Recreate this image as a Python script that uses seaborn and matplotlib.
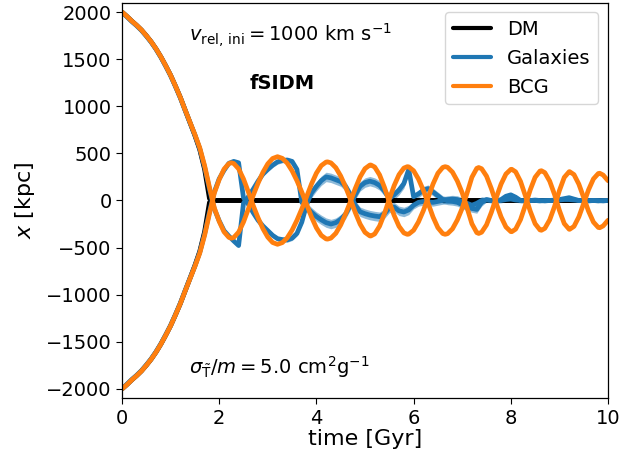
import numpy as np
import pandas as pd
import matplotlib
matplotlib.use("Agg")
import matplotlib.pyplot as plt
import seaborn as sns

# Snapshot times [Gyr]
time_gyr = np.round(np.linspace(0.0, 10.0, 101), 1)

# BCG position of the cluster starting at +2000 kpc (the other BCG mirrors it)
bcg_x = [
    2000, 1955, 1905, 1860, 1810, 1750, 1685, 1610, 1525, 1430,
    1330, 1215, 1095, 960, 830, 700, 560, 370, 140, -78,
    -222, -333, -392, -393, -336, -229, -91, 54, 184, 299,
    389, 446, 465, 447, 396, 315, 210, 89, -42, -176,
    -290, -370, -408, -399, -348, -260, -144, -13, 127, 251,
    338, 376, 355, 272, 140, -15, -158, -274, -344, -357,
    -316, -228, -109, 31, 175, 289, 351, 352, 301, 207,
    82, -78, -247, -341, -337, -259, -126, 30, 174, 281,
    330, 304, 203, 50, -113, -246, -312, -296, -206, -64,
    105, 245, 305, 275, 174, 31, -114, -229, -286, -270,
    -210,
]

# BCG turning points between the regular snapshots
bcg_turn_t = [2.25, 3.20, 4.23, 5.12, 5.87, 6.65, 7.34, 8.02, 8.63, 9.21, 9.83]
bcg_turn_x = [-400, 465, -410, 377, -359, 359, -350, 331, -316, 306, -289]

# Dark-matter peak position (merges at the centre after first passage)
dm_x = [
    2000, 1955, 1905, 1860, 1810, 1750, 1685, 1610, 1525, 1430,
    1330, 1215, 1095, 960, 825, 690, 540, 330, 20, 0,
] + [0] * 81

# Mean galaxy position, cluster starting at +2000 kpc
gal_a = [
    2000, 1950, 1900, 1855, 1805, 1745, 1680, 1605, 1520, 1425,
    1325, 1210, 1090, 955, 825, 695, 550, 355, 120, -90,
    -215, -320, -378, -430, -478, -30, 40, 120, 205, 280,
    330, 375, 410, 425, 430, 415, 330, -20, -75, -125,
    -170, -205, -235, -250, -235, -200, -145, -50, 60, 150,
    190, 205, 190, 160, 100, 20, 60, 110, 180, 330,
    40, 70, 110, 125, 90, 50, 10, -5, -10, -20,
    -45, -70, -85, -95, -20, 10, 0, -5, 10, 45,
    60, 35, 0, -5, 0, 5, 0, -5, 0, 5,
    10, 20, 30, 15, 0, -5, 0, 0, -5, 0,
    0,
]

# Mean galaxy position, cluster starting at -2000 kpc
gal_b = [
    -2000, -1950, -1900, -1855, -1805, -1745, -1680, -1605, -1520, -1425,
    -1325, -1210, -1090, -955, -825, -695, -550, -355, -120, 90,
    230, 320, 395, 415, 400, 30, -40, -130, -210, -270,
    -320, -370, -405, -415, -418, -400, -350, -230, -40, 80,
    150, 210, 250, 240, 220, 200, 150, 60, -50, -120,
    -140, -155, -165, -172, -140, -80, -70, -110, -122, -100,
    -50, -20, -10, -15, -20, -10, 0, 10, 15, 10,
    -10, -30, -50, -30, 0, 5, 0, -5, 0, 10,
    15, 5, 0, -5, 0, 0, -5, 0, 0, 0,
    5, 10, 10, 5, 0, 0, -5, 0, 0, -5,
    0,
]

# Scatter of the galaxy population around the mean
gal_err = (
    [10] * 19 + [20] * 7 + [25] * 12 + [50] * 22 + [40] * 15 + [25] * 8 + [15] * 18
)

components = ["DM", "Galaxies", "BCG"]
palette = {"DM": "black", "Galaxies": "#1f77b4", "BCG": "#ff7f0e"}

# BCG track including its turning points, ordered in time
bcg_t_all = np.concatenate([time_gyr, bcg_turn_t])
bcg_x_all = np.concatenate([np.asarray(bcg_x, float), np.asarray(bcg_turn_x, float)])
order = np.argsort(bcg_t_all, kind="stable")
bcg_t_all, bcg_x_all = bcg_t_all[order], bcg_x_all[order]

frames = []
for comp, t, s1, s2 in [
    ("DM", time_gyr, np.asarray(dm_x, float), -np.asarray(dm_x, float)),
    ("Galaxies", time_gyr, np.asarray(gal_a, float), np.asarray(gal_b, float)),
    ("BCG", bcg_t_all, bcg_x_all, -bcg_x_all),
]:
    frames.append(pd.DataFrame({"time": t, "x": s1, "component": comp, "cluster": 1}))
    frames.append(pd.DataFrame({"time": t, "x": s2, "component": comp, "cluster": 2}))
df = pd.concat(frames, ignore_index=True)

sns.set_style("ticks", {"axes.edgecolor": "black", "text.color": "black",
                        "axes.labelcolor": "black", "xtick.color": "black",
                        "ytick.color": "black"})
plt.rcParams["font.family"] = ["DejaVu Sans"]
plt.rcParams["mathtext.fontset"] = "dejavusans"

fig = plt.figure(figsize=(6.44, 4.61), dpi=100)
ax = fig.add_axes([0.1894, 0.1358, 0.7547, 0.8586])

err = np.asarray(gal_err, dtype=float)
for g in (gal_a, gal_b):
    g = np.asarray(g, dtype=float)
    ax.fill_between(time_gyr, g - err, g + err, color="#1f77b4", alpha=0.5,
                    linewidth=0, zorder=1)

sns.lineplot(data=df, x="time", y="x", hue="component", hue_order=components,
             units="cluster", estimator=None, sort=False, palette=palette,
             linewidth=3.4, ax=ax, zorder=2)

ax.set_xlim(0, 10)
ax.set_ylim(-2100, 2100)
ax.set_xticks([0, 2, 4, 6, 8, 10])
ax.set_yticks([-2000, -1500, -1000, -500, 0, 500, 1000, 1500, 2000])
ax.tick_params(labelsize=14, direction="out", length=4, colors="black")
for sp in ax.spines.values():
    sp.set_visible(True)
    sp.set_linewidth(0.9)
    sp.set_color("black")
ax.set_xlabel("time [Gyr]", fontsize=16, labelpad=1, color="black")
ax.set_ylabel(r"$x$ [kpc]", fontsize=16, labelpad=6, color="black")

ax.text(1.38, 1760, r"$v_{\mathrm{rel,\,ini}} = 1000\ \mathrm{km\ s^{-1}}$",
        fontsize=14, ha="left", va="center", color="black")
ax.text(2.62, 1240, "fSIDM", fontsize=14, fontweight="bold", ha="left",
        va="center", color="black")
ax.text(1.38, -1770, r"$\sigma_{\tilde{\mathrm{T}}}/m = 5.0\ \mathrm{cm}^2\mathrm{g}^{-1}$",
        fontsize=14, ha="left", va="center", color="black")

leg = ax.legend(loc="upper right", fontsize=14, title=None)
for line in leg.get_lines():
    line.set_linewidth(3)
for txt in leg.get_texts():
    txt.set_color("black")

fig.savefig("out.png", dpi=100)
